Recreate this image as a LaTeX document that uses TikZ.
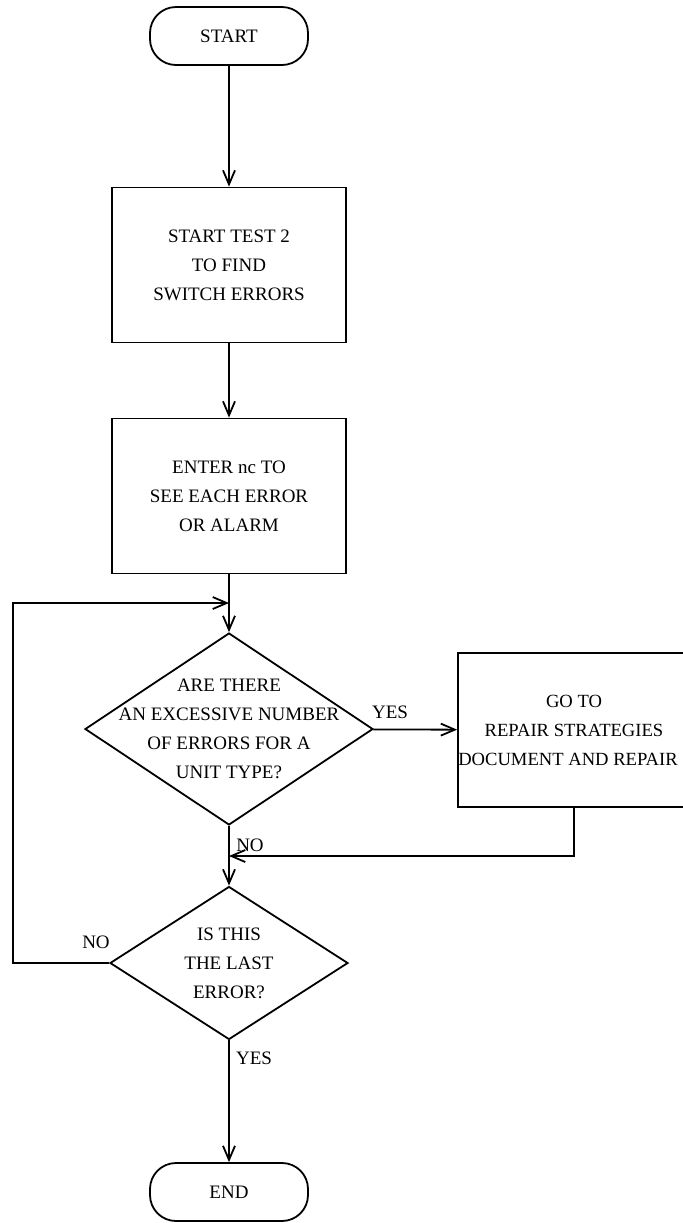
\documentclass[tikz,border=0pt]{standalone}
\usepackage{fontspec}
\setmainfont{Liberation Serif}
\usetikzlibrary{shapes.geometric,arrows.meta}

\tikzset{
  flowline/.style={line width=0.9pt,-{Straight Barb[length=7pt,width=6pt]}},
  terminal/.style={draw,line width=0.9pt,rounded corners=13pt,minimum width=79pt,minimum height=29pt,inner sep=0pt},
  process/.style={draw,line width=0.9pt,minimum width=117pt,minimum height=77.5pt,align=center,inner sep=0pt},
  decision/.style={draw,diamond,line width=0.9pt,inner sep=0pt},
  branch/.style={inner sep=1pt}
}

\begin{document}
\begin{tikzpicture}[x=0.5pt,y=-0.5pt,font=\fontsize{9.5pt}{14.5pt}\selectfont]
    % picture is 683 x 1223 px, one unit per px
    \clip (0,0) rectangle (683,1223);
    \node[terminal] (start) at (229,36) {START};
    \node[process] (test) at (229,265) {START TEST 2\\TO FIND\\SWITCH ERRORS};
    \node[process] (enter) at (229,496) {ENTER nc TO\\SEE EACH ERROR\\OR ALARM};
    \node[decision,minimum width=144pt,minimum height=96pt,
      label={[align=center]center:{ARE THERE\\AN EXCESSIVE NUMBER\\OF ERRORS FOR A\\UNIT TYPE?}}] (excess) at (229,729) {};
    % box runs off the right edge of the page
    \node[process,minimum width=116pt,minimum height=77pt,font=\fontsize{9.3pt}{14.5pt}\selectfont] (repair) at (574,730) {GO TO\\REPAIR STRATEGIES\\DOCUMENT AND REPAIR\hspace*{6pt}};
    \node[decision,minimum width=119pt,minimum height=76.5pt,
      label={[align=center]center:{IS THIS\\THE LAST\\ERROR?}}] (last) at (229,963) {};
    \node[terminal] (finish) at (229,1192) {END};
    \coordinate (back) at (229,603);
    \coordinate (join) at (229,856);
    \coordinate (margin) at (13,603);
    \draw[flowline] (start) -- (test);
    \draw[flowline] (test) -- (enter);
    \draw[flowline] (enter) -- (excess);
    \draw[flowline] (excess) -- (repair);
    \draw[flowline] (repair.south) |- (join);
    \draw[flowline] (excess) -- (last);
    \draw[flowline] (last.west) -| (margin) -- (back);
    \draw[flowline] (last) -- (finish);
    \node[branch] (yes1) at (390,712) {YES};
    \node[branch] (no1) at (250,845) {NO};
    \node[branch] (no2) at (96,942) {NO};
    \node[branch] (yes2) at (254,1058) {YES};
\end{tikzpicture}
\end{document}
